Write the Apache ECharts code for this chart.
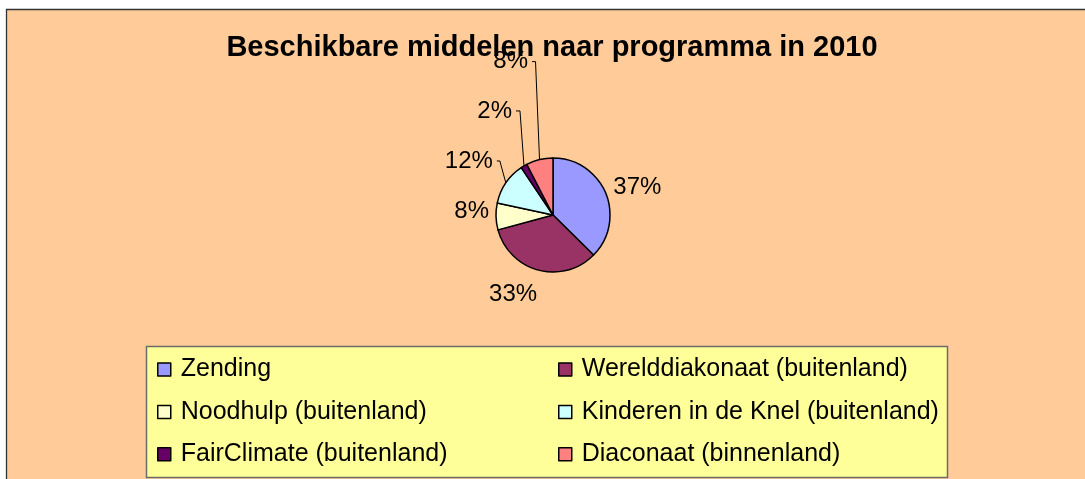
<!DOCTYPE html>
<html><head><meta charset="utf-8">
<script src="https://cdn.jsdelivr.net/npm/echarts@6/dist/echarts.min.js"></script>
<style>html,body{margin:0;padding:0;background:#fff}#c{width:1085px;height:479px}</style>
</head><body><div id="c"></div>
<script>
// ---- data ----
const categories = ['Zending', 'Werelddiakonaat (buitenland)', 'Noodhulp (buitenland)', 'Kinderen in de Knel (buitenland)', 'FairClimate (buitenland)', 'Diaconaat (binnenland)'];
const shares = [37.4, 33.4, 7.6, 12.2, 1.8, 7.6];
const titleText = 'Beschikbare middelen naar programma in 2010';
const legendCol1 = [categories[0], categories[2], categories[4]];
const legendCol2 = [categories[1], categories[3], categories[5]];

// ---- style ----
const colors = ['#9999FF', '#993366', '#FFFFCC', '#CCFFFF', '#660066', '#FF8080'];
const FONT = 'Liberation Sans, Arial, sans-serif';
// label placement styles (pixel offsets)
const labelStyles = [
  { length: 3, shift: [0, -4] },
  { length: 25, shift: [10, 0] },
  { length: 2, shift: [0, -5] },
  { length: 10, elbow: [-6, -22], tick: 3 },
  { length: 10, elbow: [-4, -55], tick: 4 },
  { length: 10, elbow: [-4, -98], tick: 3.5 }
];

const chart = echarts.init(document.getElementById('c'), null, { renderer: 'canvas' });

const pieData = categories.map((name, i) => ({
  name: name,
  value: shares[i],
  itemStyle: { color: colors[i] },
  labelLine: { show: !!labelStyles[i].elbow, length: labelStyles[i].length, length2: 0 }
}));

const legendBase = {
  orient: 'vertical',
  top: 357,
  itemWidth: 13,
  itemHeight: 13,
  itemGap: 17.4,
  icon: 'rect',
  selectedMode: false,
  padding: 0,
  itemStyle: { borderColor: '#000', borderWidth: 1.5 },
  textStyle: { fontSize: 25, lineHeight: 24, fontFamily: FONT, color: '#000', padding: [0, 0, 0, 5] }
};

chart.setOption({
  backgroundColor: '#ffffff',
  animation: false,
  color: colors,
  title: {
    text: titleText,
    left: 552,
    textAlign: 'center',
    top: 33,
    padding: 0,
    textStyle: { fontSize: 29, fontWeight: 'bold', fontFamily: FONT, color: '#000', lineHeight: 30 }
  },
  graphic: [
    { type: 'rect', z: 0, silent: true, shape: { x: 6.5, y: 9.5, width: 1100, height: 500 },
      style: { fill: '#FFCC99', stroke: '#333', lineWidth: 1.3 } },
    { type: 'rect', z: 0, silent: true, shape: { x: 146.5, y: 346.5, width: 801, height: 131 },
      style: { fill: '#FFFF99', stroke: '#6b6b6b', lineWidth: 1.5 } }
  ],
  legend: [
    Object.assign({}, legendBase, { left: 157, data: legendCol1 }),
    Object.assign({}, legendBase, { left: 558, data: legendCol2 })
  ],
  series: [{
    type: 'pie',
    center: [553, 215],
    radius: 57,
    startAngle: 90,
    clockwise: true,
    avoidLabelOverlap: false,
    percentPrecision: 0,
    silent: true,
    itemStyle: { borderColor: '#000', borderWidth: 1.5 },
    label: {
      show: true, position: 'outside', formatter: '{d}%',
      fontSize: 24, fontFamily: FONT, color: '#000', distanceToLabelLine: 5
    },
    labelLine: { show: true, length: 10, length2: 0, smooth: false, lineStyle: { color: '#000', width: 1 } },
    labelLayout: function (p) {
      const s = labelStyles[p.dataIndex];
      const r = p.labelRect;
      if (s.elbow && p.labelLinePoints) {
        const a = p.labelLinePoints[0];
        const ex = a[0] + s.elbow[0], ey = a[1] + s.elbow[1];
        const tx = ex - s.tick;
        return {
          x: tx - 4, y: ey,
          labelLinePoints: [[a[0], a[1]], [ex, ey], [tx, ey]]
        };
      }
      const right = p.align === 'right' || (p.align == null && r.x + r.width / 2 < 553);
      const ax = right ? r.x + r.width : r.x;
      const ay = r.y + r.height / 2;
      return { x: ax + s.shift[0], y: ay + s.shift[1] };
    },
    data: pieData
  }]
});
</script>
</body></html>
